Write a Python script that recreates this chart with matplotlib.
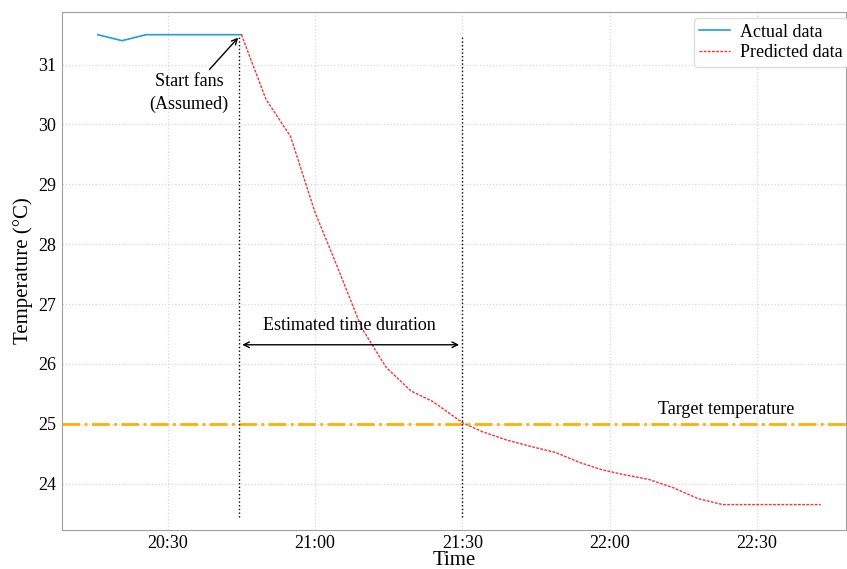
import matplotlib.pyplot as plt
import matplotlib.dates as mdates
import pandas as pd

plt.rcParams['font.family'] = ['Liberation Serif', 'DejaVu Serif']

# actual measured temperatures
actual_times = ["20:15:45", "20:20:40", "20:25:35", "20:30:30", "20:35:25",
                "20:40:10", "20:45:00"]
actual_temp = [31.5, 31.4, 31.5, 31.5, 31.5, 31.5, 31.5]

# predicted temperatures after fans start
pred_times = ["20:45:00", "20:50:00", "20:55:00", "21:00:00", "21:04:30",
              "21:09:30", "21:14:30", "21:19:30", "21:24:00", "21:30:00",
              "21:34:00", "21:39:00", "21:44:00", "21:49:00", "21:54:00",
              "21:58:30", "22:03:30", "22:08:00", "22:13:00", "22:18:00",
              "22:23:00", "22:28:00", "22:33:00", "22:38:00", "22:43:00"]
pred_temp = [31.5, 30.42, 29.8, 28.53, 27.63,
             26.6, 25.94, 25.55, 25.37, 25.02,
             24.87, 24.73, 24.62, 24.52, 24.35,
             24.23, 24.14, 24.07, 23.93, 23.75,
             23.65, 23.65, 23.65, 23.65, 23.65]

target_temp = 25.0
start_time = "20:44:25"
reach_time = "21:29:50"

def t(s):
    return pd.Timestamp("2021-01-01 " + s)

ta = [t(s) for s in actual_times]
tp = [t(s) for s in pred_times]

fig = plt.figure(figsize=(8.47, 5.69), dpi=100)
ax = fig.add_axes([0.073, 0.069, 0.926, 0.91])

ax.grid(True, color='#d8d8d8', linestyle=':', linewidth=0.9)
ax.set_axisbelow(True)

ax.plot(ta, actual_temp, color='#1f9fd8', linewidth=1.2, label='Actual data')
ax.plot(tp, pred_temp, color='#ff3030', linewidth=1.0, linestyle=(0, (2, 1)),
        label='Predicted data')

ax.axhline(target_temp, color='#ffb000', linewidth=2, linestyle='-.')

ax.vlines([t(start_time), t(reach_time)], 23.45, 31.48, colors='black',
          linestyles=':', linewidth=1.0)

# time duration arrow
ax.annotate('', xy=(t("20:45:10"), 26.32), xytext=(t("21:29:20"), 26.32),
            arrowprops=dict(arrowstyle='<->', color='black', lw=1.0,
                            shrinkA=0, shrinkB=0))
ax.text(t("21:07:00"), 26.5, 'Estimated time duration', ha='center',
        va='bottom', fontsize=13)

# start fans label + arrow
ax.text(t("20:34:20"), 30.52, 'Start fans\n(Assumed)', ha='center',
        va='center', fontsize=13, linespacing=1.45)
ax.annotate('', xy=(t("20:44:20"), 31.45), xytext=(t("20:38:30"), 30.92),
            arrowprops=dict(arrowstyle='->', color='black', lw=1.0,
                            shrinkA=0, shrinkB=0))

ax.text(t("22:23:50"), 25.1, 'Target temperature', ha='center', va='bottom',
        fontsize=13)

ax.set_xlim(t("20:08:25"), t("22:48:10"))
ax.set_ylim(23.23, 31.88)
ax.set_yticks([24, 25, 26, 27, 28, 29, 30, 31])
ax.xaxis.set_major_locator(mdates.MinuteLocator(byminute=[0, 30]))
ax.xaxis.set_major_formatter(mdates.DateFormatter('%H:%M'))
ax.tick_params(labelsize=13, length=0, pad=4)

for sp in ax.spines.values():
    sp.set_color('#a0a0a0')

ax.set_xlabel('Time', fontsize=15, labelpad=-1)
ax.set_ylabel('Temperature (°C)', fontsize=15)

ax.legend(loc='upper right', bbox_to_anchor=(1.002, 0.988), fontsize=13,
          frameon=True, fancybox=True, framealpha=1, edgecolor='#dddddd',
          handlelength=1.7, handletextpad=0.55, borderaxespad=0,
          labelspacing=0.2, borderpad=0.3)

fig.savefig('out.png', dpi=100)
